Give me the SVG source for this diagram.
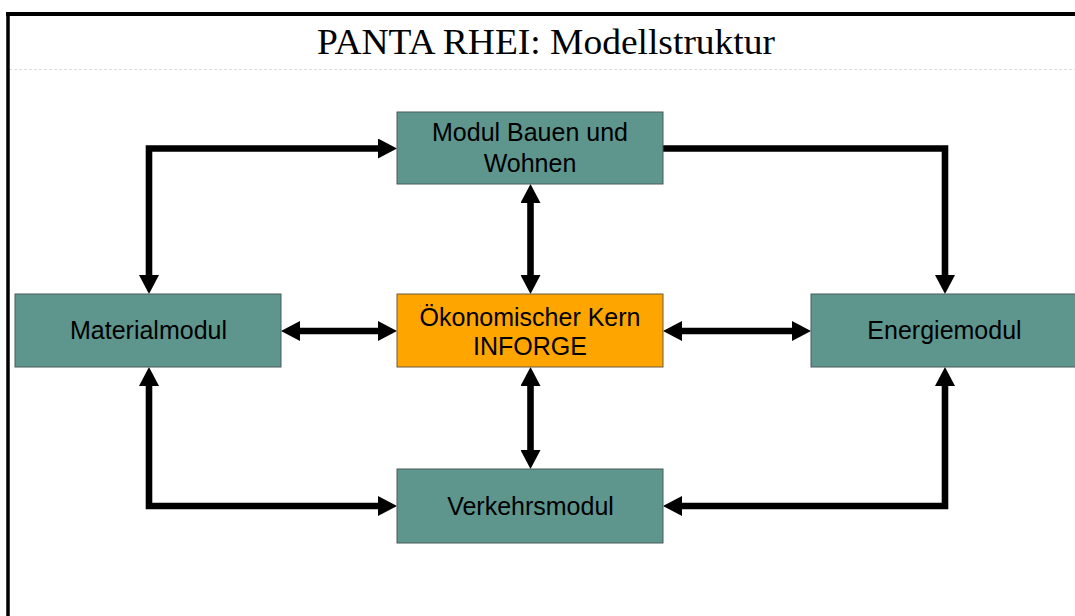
<svg xmlns="http://www.w3.org/2000/svg" width="1075" height="616" viewBox="0 0 1075 616">
<style>
.node{fill:#5E968E;stroke:#4a5a58;stroke-width:1}
.core{fill:#FFA500;stroke:#6b5a3a;stroke-width:1}
.lbl{font-family:"Liberation Sans",Arial,sans-serif;font-size:25px;fill:#000;text-anchor:middle}
.conn{fill:none;stroke:#000;stroke-width:6.6;stroke-linejoin:miter}
.title{font-family:"Liberation Serif","Times New Roman",serif;font-size:35px;fill:#000}
</style>
<defs>
<marker id="ah" markerUnits="userSpaceOnUse" markerWidth="20" markerHeight="20" viewBox="0 0 19 20" refX="0" refY="10" orient="auto-start-reverse">
<path d="M0,0 L19,10 L0,20 Z" fill="#000"/>
</marker>
</defs>
<rect x="0" y="0" width="1075" height="616" fill="#fff"/>
<g id="frame">
<line x1="9" y1="16" x2="9" y2="69" stroke="#e2e2e2" stroke-width="1"/>
<line x1="9" y1="69.5" x2="1075" y2="69.5" stroke="#dddddd" stroke-width="1" stroke-dasharray="3,2"/>
<line x1="6" y1="14" x2="1075" y2="14" stroke="#000" stroke-width="4"/>
<line x1="8" y1="12" x2="8" y2="616" stroke="#000" stroke-width="3.5"/>
<text class="title" x="317" y="53.5" textLength="458" lengthAdjust="spacingAndGlyphs">PANTA RHEI: Modellstruktur</text>
</g>
<g id="connectors">
<path class="conn" d="M149,275 L149,148.5 L378,148.5" marker-start="url(#ah)" marker-end="url(#ah)"/>
<path class="conn" d="M663,148.5 L945,148.5 L945,275" marker-end="url(#ah)"/>
<path class="conn" d="M530.5,203 L530.5,275" marker-start="url(#ah)" marker-end="url(#ah)"/>
<path class="conn" d="M530.5,386 L530.5,450" marker-start="url(#ah)" marker-end="url(#ah)"/>
<path class="conn" d="M300,331 L378,331" marker-start="url(#ah)" marker-end="url(#ah)"/>
<path class="conn" d="M682,331 L792,331" marker-start="url(#ah)" marker-end="url(#ah)"/>
<path class="conn" d="M149,386 L149,506 L378,506" marker-start="url(#ah)" marker-end="url(#ah)"/>
<path class="conn" d="M945,386 L945,506 L682,506" marker-start="url(#ah)" marker-end="url(#ah)"/>
</g>
<g id="bauen">
<rect class="node" x="397" y="112" width="266" height="72"/>
<text class="lbl" x="530" y="140.5">Modul Bauen und</text>
<text class="lbl" x="530" y="172">Wohnen</text>
</g>
<g id="material">
<rect class="node" x="15" y="294" width="266" height="73"/>
<text class="lbl" x="148.5" y="339">Materialmodul</text>
</g>
<g id="kern">
<rect class="core" x="397" y="294" width="266" height="73"/>
<text class="lbl" x="530" y="325.5">Ökonomischer Kern</text>
<text class="lbl" x="530" y="355">INFORGE</text>
</g>
<g id="energie">
<rect class="node" x="811" y="294" width="266" height="73"/>
<text class="lbl" x="944.5" y="339">Energiemodul</text>
</g>
<g id="verkehr">
<rect class="node" x="397" y="469" width="266" height="74"/>
<text class="lbl" x="530.5" y="515">Verkehrsmodul</text>
</g>
</svg>
